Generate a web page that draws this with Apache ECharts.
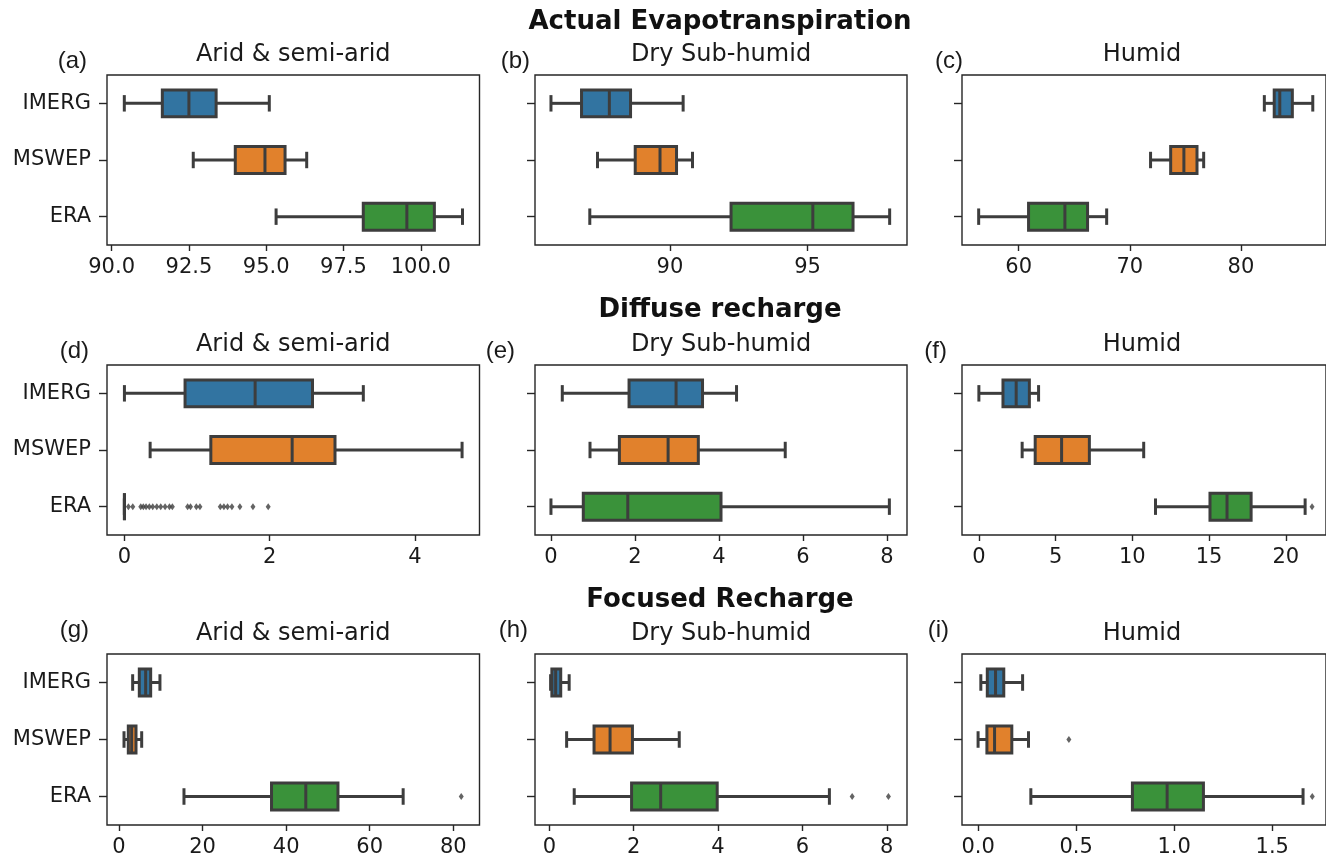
<!DOCTYPE html>
<html>
<head>
<meta charset="utf-8">
<script src="https://cdn.jsdelivr.net/npm/echarts@6/dist/echarts.min.js"></script>
<style>html,body{margin:0;padding:0;background:#fff;}#chart{width:1326px;height:858px;}</style>
</head>
<body>
<div id="chart"></div>
<script>
// ---------------- DATA ----------------
const categories = ['IMERG', 'MSWEP', 'ERA'];
const rowTitles = ['Actual Evapotranspiration', 'Diffuse recharge', 'Focused Recharge'];
const colTitles = ['Arid & semi-arid', 'Dry Sub-humid', 'Humid'];
const panelLabels = ['(a)', '(b)', '(c)', '(d)', '(e)', '(f)', '(g)', '(h)', '(i)'];

// each row: [low whisker, Q1, median, Q3, high whisker] for IMERG, MSWEP, ERA
const aetArid  = [[90.41, 91.64, 92.50, 93.38, 95.10], [92.64, 94.00, 94.96, 95.61, 96.31], [95.32, 98.14, 99.55, 100.44, 101.35]];
const aetDry   = [[85.68, 86.79, 87.80, 88.57, 90.48], [87.37, 88.74, 89.64, 90.24, 90.82], [87.09, 92.22, 95.19, 96.65, 97.98]];
const aetHumid = [[82.11, 83.00, 83.50, 84.63, 86.47], [71.87, 73.68, 74.87, 76.05, 76.65], [56.40, 60.89, 64.16, 66.20, 67.92]];
const drArid   = [[0.00, 0.835, 1.80, 2.59, 3.29], [0.354, 1.19, 2.31, 2.90, 4.65], [0, 0, 0, 0, 0]];
const drDry    = [[0.27, 1.86, 2.98, 3.61, 4.42], [0.93, 1.63, 2.79, 3.51, 5.58], [0.00, 0.77, 1.83, 4.05, 8.06]];
const drHumid  = [[0.00, 1.57, 2.43, 3.29, 3.89], [2.82, 3.67, 5.39, 7.20, 10.74], [11.51, 15.06, 16.17, 17.74, 21.26]];
const frArid   = [[3.27, 4.86, 6.38, 7.58, 9.80], [1.20, 2.23, 3.03, 4.07, 5.43], [15.55, 36.5, 44.7, 52.4, 68.0]];
const frDry    = [[0.03, 0.06, 0.15, 0.27, 0.47], [0.41, 1.06, 1.44, 1.97, 3.08], [0.59, 1.95, 2.64, 3.98, 6.64]];
const frHumid  = [[0.014, 0.047, 0.089, 0.131, 0.227], [0.000, 0.045, 0.084, 0.172, 0.257], [0.269, 0.787, 0.964, 1.149, 1.657]];

// outliers: [value, category]
const drAridOutliers  = [0.055, 0.115, 0.225, 0.26, 0.298, 0.343, 0.39, 0.446, 0.5, 0.56, 0.62, 0.66, 0.87, 0.91, 0.99, 1.04, 1.32, 1.37, 1.42, 1.48, 1.59, 1.77, 1.98].map(v => [v, 'ERA']);
const drHumidOutliers = [[21.71, 'ERA']];
const frAridOutliers  = [[81.9, 'ERA']];
const frDryOutliers   = [[7.18, 'ERA'], [8.04, 'ERA']];
const frHumidOutliers = [[0.463, 'MSWEP'], [1.704, 'ERA']];

// x-axis domains and tick labels
const domains = [[89.85, 101.9], [85.10, 98.61], [54.9, 87.66],
                 [-0.24, 4.89], [-0.38, 8.48], [-1.1, 22.62],
                 [-2.87, 86.27], [-0.34, 8.48], [-0.082, 1.774]];
const tickLabels = [[90.0, 92.5, 95.0, 97.5, 100.0], [90, 95], [60, 70, 80],
                    [0, 2, 4], [0, 2, 4, 6, 8], [0, 5, 10, 15, 20],
                    [0, 20, 40, 60, 80], [0, 2, 4, 6, 8], [0.0, 0.5, 1.0, 1.5]];
const tickDecimals = [1, 0, 0, 0, 0, 0, 0, 0, 1];

// ---------------- STYLE / LAYOUT ----------------
const COLORS = ['#3274a1', '#e1812c', '#3a923a'];
const EDGE = '#3d3d3d';
const TXT = '#1a1a1a';
const FONT = 'DejaVu Sans';
const colLeft = [107, 535, 962];
const colWidth = [372.5, 372, 368];
const rowTop = [75, 365, 654];
const rowHeight = [170, 170, 172];
const labelX = [87, 530, 963, 89, 515, 947, 89, 528, 949];
const labelY = [61, 351, 630];
const subTitleY = [55, 345, 634];
const mainTitleY = [22, 310, 600];

const boxData = [aetArid, aetDry, aetHumid, drArid, drDry, drHumid, frArid, frDry, frHumid];
const outlierData = [[], [], [], drAridOutliers, [], drHumidOutliers, frAridOutliers, frDryOutliers, frHumidOutliers];

const LW = 3;
function renderBox(params, api) {
  const k = api.value(0);
  const pts = [1, 2, 3, 4, 5].map(d => api.coord([api.value(d), k]));
  const cy = pts[0][1];
  const band = api.size([0, 1])[1];
  const bh = band * 0.475, ch = band * 0.29;
  const st = { stroke: EDGE, lineWidth: LW, fill: null };
  return {
    type: 'group',
    children: [
      { type: 'line', shape: { x1: pts[0][0], y1: cy, x2: pts[1][0], y2: cy }, style: st },
      { type: 'line', shape: { x1: pts[3][0], y1: cy, x2: pts[4][0], y2: cy }, style: st },
      { type: 'line', shape: { x1: pts[0][0], y1: cy - ch / 2, x2: pts[0][0], y2: cy + ch / 2 }, style: st },
      { type: 'line', shape: { x1: pts[4][0], y1: cy - ch / 2, x2: pts[4][0], y2: cy + ch / 2 }, style: st },
      { type: 'rect', shape: { x: pts[1][0], y: cy - bh / 2, width: pts[3][0] - pts[1][0], height: bh },
        style: { fill: COLORS[k], stroke: EDGE, lineWidth: LW } },
      { type: 'line', shape: { x1: pts[2][0], y1: cy - bh / 2, x2: pts[2][0], y2: cy + bh / 2 }, style: st }
    ]
  };
}

const grids = [], xAxes = [], yAxes = [], series = [], graphics = [];
for (let i = 0; i < 9; i++) {
  const r = Math.floor(i / 3), c = i % 3;
  grids.push({ left: colLeft[c], top: rowTop[r], width: colWidth[c], height: rowHeight[r],
    show: true, borderColor: '#262626', borderWidth: 1.4, backgroundColor: 'transparent', containLabel: false });
  const dec = tickDecimals[i];
  xAxes.push({ type: 'value', gridIndex: i, min: domains[i][0], max: domains[i][1], position: 'bottom',
    splitLine: { show: false }, axisLine: { show: false, onZero: false },
    axisTick: { show: true, customValues: tickLabels[i], length: 6, lineStyle: { color: '#262626', width: 1.4 } },
    axisLabel: { customValues: tickLabels[i], formatter: v => Number(v).toFixed(dec),
      fontFamily: FONT, fontSize: 21, color: TXT, margin: 12 } });
  yAxes.push({ type: 'category', gridIndex: i, data: categories, inverse: true, position: 'left',
    axisLine: { show: false, onZero: false }, splitLine: { show: false },
    axisTick: { show: true, alignWithLabel: true, length: 8, lineStyle: { color: '#262626', width: 1.4 } },
    axisLabel: { show: c === 0, fontFamily: FONT, fontSize: 21, color: TXT, margin: 16 } });
  series.push({ type: 'custom', xAxisIndex: i, yAxisIndex: i, renderItem: renderBox, silent: true,
    data: boxData[i].map((row, k) => [k].concat(row)), encode: { x: [1, 2, 3, 4, 5], y: 0 }, z: 2 });
  if (outlierData[i].length) {
    series.push({ type: 'scatter', xAxisIndex: i, yAxisIndex: i, silent: true, z: 3,
      data: outlierData[i], symbol: 'diamond', symbolSize: [5, 7], itemStyle: { color: EDGE } });
  }
  graphics.push({ type: 'text', x: colLeft[c] + colWidth[c] / 2 - (c === 2 ? 4 : 0), y: subTitleY[r],
    style: { text: colTitles[c], font: '24px "DejaVu Sans"', fill: TXT, align: 'center', verticalAlign: 'middle' } });
  graphics.push({ type: 'text', x: labelX[i], y: labelY[r],
    style: { text: panelLabels[i], font: '24px "Liberation Sans"', fill: TXT, align: 'right', verticalAlign: 'middle' } });
}
for (let r = 0; r < 3; r++) {
  graphics.push({ type: 'text', x: 720, y: mainTitleY[r],
    style: { text: rowTitles[r], font: 'bold 26px "DejaVu Sans"', fill: '#111', align: 'center', verticalAlign: 'middle' } });
}

const chart = echarts.init(document.getElementById('chart'), null, { renderer: 'canvas' });
chart.setOption({
  animation: false,
  backgroundColor: '#fff',
  grid: grids, xAxis: xAxes, yAxis: yAxes, series: series, graphic: graphics
});
</script>
</body>
</html>
